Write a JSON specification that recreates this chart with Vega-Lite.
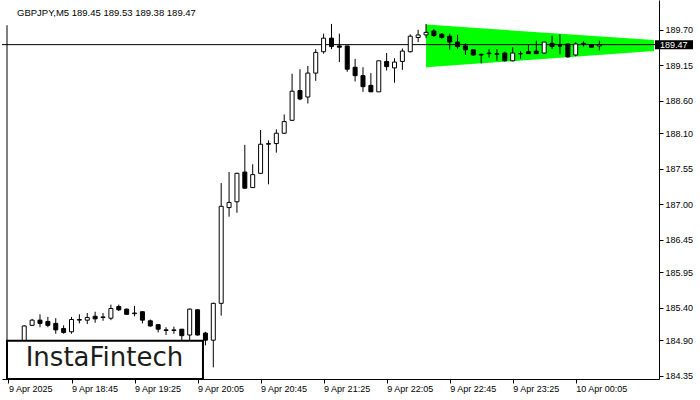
{
  "$schema": "https://vega.github.io/schema/vega-lite/v6.json",
  "width": 657,
  "height": 379,
  "autosize": {"type": "none"},
  "padding": {"left": 2, "top": 0, "right": 41, "bottom": 21},
  "background": "white",
  "title": {"text": "GBPJPY,M5  189.45 189.53 189.38 189.47", "anchor": "start", "frame": "group", "offset": -17, "dx": 15, "font": "Liberation Sans", "fontSize": 9.5, "fontWeight": "normal", "color": "black"},
  "config": {"view": {"stroke": null}, "axis": {"domainWidth": 1, "tickWidth": 1, "labelOverlap": false, "labelSeparation": 0}},
  "datasets": {
    "candles": [
      {"t": "2025-04-09T18:05:00", "open": 184.84, "high": 184.88, "low": 184.76, "close": 184.82},
      {"t": "2025-04-09T18:10:00", "open": 184.82, "high": 184.87, "low": 184.75, "close": 184.85},
      {"t": "2025-04-09T18:15:00", "open": 184.85, "high": 185.13, "low": 184.82, "close": 185.12},
      {"t": "2025-04-09T18:20:00", "open": 185.13, "high": 185.23, "low": 185.12, "close": 185.21},
      {"t": "2025-04-09T18:25:00", "open": 185.21, "high": 185.30, "low": 185.10, "close": 185.16},
      {"t": "2025-04-09T18:30:00", "open": 185.19, "high": 185.26, "low": 185.10, "close": 185.13},
      {"t": "2025-04-09T18:35:00", "open": 185.16, "high": 185.24, "low": 185.00, "close": 185.06},
      {"t": "2025-04-09T18:40:00", "open": 185.08, "high": 185.13, "low": 185.00, "close": 185.02},
      {"t": "2025-04-09T18:45:00", "open": 185.03, "high": 185.26, "low": 185.00, "close": 185.22},
      {"t": "2025-04-09T18:50:00", "open": 185.21, "high": 185.30, "low": 185.16, "close": 185.22},
      {"t": "2025-04-09T18:55:00", "open": 185.21, "high": 185.32, "low": 185.15, "close": 185.25},
      {"t": "2025-04-09T19:00:00", "open": 185.27, "high": 185.34, "low": 185.17, "close": 185.23},
      {"t": "2025-04-09T19:05:00", "open": 185.25, "high": 185.32, "low": 185.20, "close": 185.26},
      {"t": "2025-04-09T19:10:00", "open": 185.24, "high": 185.45, "low": 185.21, "close": 185.39},
      {"t": "2025-04-09T19:15:00", "open": 185.42, "high": 185.45, "low": 185.35, "close": 185.37},
      {"t": "2025-04-09T19:20:00", "open": 185.38, "high": 185.39, "low": 185.30, "close": 185.30},
      {"t": "2025-04-09T19:25:00", "open": 185.31, "high": 185.43, "low": 185.27, "close": 185.32},
      {"t": "2025-04-09T19:30:00", "open": 185.34, "high": 185.35, "low": 185.16, "close": 185.21},
      {"t": "2025-04-09T19:35:00", "open": 185.20, "high": 185.22, "low": 185.11, "close": 185.12},
      {"t": "2025-04-09T19:40:00", "open": 185.14, "high": 185.15, "low": 185.02, "close": 185.07},
      {"t": "2025-04-09T19:45:00", "open": 185.06, "high": 185.10, "low": 184.98, "close": 185.05},
      {"t": "2025-04-09T19:50:00", "open": 185.05, "high": 185.11, "low": 185.00, "close": 185.06},
      {"t": "2025-04-09T19:55:00", "open": 185.07, "high": 185.07, "low": 184.90, "close": 184.97},
      {"t": "2025-04-09T20:00:00", "open": 184.98, "high": 185.39, "low": 184.89, "close": 185.38},
      {"t": "2025-04-09T20:05:00", "open": 185.37, "high": 185.38, "low": 184.97, "close": 184.98},
      {"t": "2025-04-09T20:10:00", "open": 185.01, "high": 185.03, "low": 184.82, "close": 184.90},
      {"t": "2025-04-09T20:15:00", "open": 184.90, "high": 185.48, "low": 184.48, "close": 185.47},
      {"t": "2025-04-09T20:20:00", "open": 185.47, "high": 187.33, "low": 185.28, "close": 186.97},
      {"t": "2025-04-09T20:25:00", "open": 186.95, "high": 187.50, "low": 186.81, "close": 187.03},
      {"t": "2025-04-09T20:30:00", "open": 187.04, "high": 187.49, "low": 186.87, "close": 187.48},
      {"t": "2025-04-09T20:35:00", "open": 187.50, "high": 187.92, "low": 187.24, "close": 187.25},
      {"t": "2025-04-09T20:40:00", "open": 187.26, "high": 187.62, "low": 187.26, "close": 187.46},
      {"t": "2025-04-09T20:45:00", "open": 187.48, "high": 188.15, "low": 187.47, "close": 187.93},
      {"t": "2025-04-09T20:50:00", "open": 187.93, "high": 187.99, "low": 187.31, "close": 187.94},
      {"t": "2025-04-09T20:55:00", "open": 187.94, "high": 188.16, "low": 187.80, "close": 188.10},
      {"t": "2025-04-09T21:00:00", "open": 188.10, "high": 188.39, "low": 188.09, "close": 188.28},
      {"t": "2025-04-09T21:05:00", "open": 188.30, "high": 189.02, "low": 188.29, "close": 188.75},
      {"t": "2025-04-09T21:10:00", "open": 188.76, "high": 189.09, "low": 188.61, "close": 188.63},
      {"t": "2025-04-09T21:15:00", "open": 188.66, "high": 189.14, "low": 188.56, "close": 189.03},
      {"t": "2025-04-09T21:20:00", "open": 189.03, "high": 189.40, "low": 188.91, "close": 189.35},
      {"t": "2025-04-09T21:25:00", "open": 189.36, "high": 189.64, "low": 189.33, "close": 189.57},
      {"t": "2025-04-09T21:30:00", "open": 189.57, "high": 189.79, "low": 189.40, "close": 189.44},
      {"t": "2025-04-09T21:35:00", "open": 189.45, "high": 189.64, "low": 189.20, "close": 189.43},
      {"t": "2025-04-09T21:40:00", "open": 189.45, "high": 189.45, "low": 189.05, "close": 189.09},
      {"t": "2025-04-09T21:45:00", "open": 189.12, "high": 189.25, "low": 188.90, "close": 188.99},
      {"t": "2025-04-09T21:50:00", "open": 188.99, "high": 189.12, "low": 188.74, "close": 188.82},
      {"t": "2025-04-09T21:55:00", "open": 188.84, "high": 189.03, "low": 188.74, "close": 188.74},
      {"t": "2025-04-09T22:00:00", "open": 188.74, "high": 189.22, "low": 188.74, "close": 189.22},
      {"t": "2025-04-09T22:05:00", "open": 189.21, "high": 189.34, "low": 189.07, "close": 189.13},
      {"t": "2025-04-09T22:10:00", "open": 189.11, "high": 189.26, "low": 188.88, "close": 189.20},
      {"t": "2025-04-09T22:15:00", "open": 189.21, "high": 189.41, "low": 189.08, "close": 189.37},
      {"t": "2025-04-09T22:20:00", "open": 189.36, "high": 189.63, "low": 189.35, "close": 189.60},
      {"t": "2025-04-09T22:25:00", "open": 189.58, "high": 189.70, "low": 189.51, "close": 189.62},
      {"t": "2025-04-09T22:30:00", "open": 189.62, "high": 189.79, "low": 189.57, "close": 189.66},
      {"t": "2025-04-09T22:35:00", "open": 189.68, "high": 189.71, "low": 189.59, "close": 189.61},
      {"t": "2025-04-09T22:40:00", "open": 189.63, "high": 189.65, "low": 189.56, "close": 189.58},
      {"t": "2025-04-09T22:45:00", "open": 189.60, "high": 189.64, "low": 189.39, "close": 189.51},
      {"t": "2025-04-09T22:50:00", "open": 189.51, "high": 189.62, "low": 189.40, "close": 189.44},
      {"t": "2025-04-09T22:55:00", "open": 189.45, "high": 189.49, "low": 189.31, "close": 189.39},
      {"t": "2025-04-09T23:00:00", "open": 189.39, "high": 189.39, "low": 189.30, "close": 189.31},
      {"t": "2025-04-09T23:05:00", "open": 189.32, "high": 189.33, "low": 189.18, "close": 189.31},
      {"t": "2025-04-09T23:10:00", "open": 189.33, "high": 189.40, "low": 189.27, "close": 189.34},
      {"t": "2025-04-09T23:15:00", "open": 189.33, "high": 189.40, "low": 189.22, "close": 189.32},
      {"t": "2025-04-09T23:20:00", "open": 189.34, "high": 189.36, "low": 189.21, "close": 189.22},
      {"t": "2025-04-09T23:25:00", "open": 189.22, "high": 189.43, "low": 189.21, "close": 189.34},
      {"t": "2025-04-09T23:30:00", "open": 189.33, "high": 189.37, "low": 189.25, "close": 189.33},
      {"t": "2025-04-09T23:35:00", "open": 189.36, "high": 189.47, "low": 189.33, "close": 189.33},
      {"t": "2025-04-09T23:40:00", "open": 189.37, "high": 189.53, "low": 189.33, "close": 189.33},
      {"t": "2025-04-09T23:45:00", "open": 189.34, "high": 189.51, "low": 189.33, "close": 189.51},
      {"t": "2025-04-09T23:50:00", "open": 189.49, "high": 189.61, "low": 189.40, "close": 189.44},
      {"t": "2025-04-09T23:55:00", "open": 189.45, "high": 189.63, "low": 189.32, "close": 189.45},
      {"t": "2025-04-10T00:00:00", "open": 189.48, "high": 189.48, "low": 189.27, "close": 189.28},
      {"t": "2025-04-10T00:05:00", "open": 189.31, "high": 189.51, "low": 189.29, "close": 189.48},
      {"t": "2025-04-10T00:10:00", "open": 189.49, "high": 189.52, "low": 189.44, "close": 189.48},
      {"t": "2025-04-10T00:15:00", "open": 189.47, "high": 189.48, "low": 189.43, "close": 189.43},
      {"t": "2025-04-10T00:20:00", "open": 189.45, "high": 189.53, "low": 189.38, "close": 189.47}
    ],
    "pattern": [
      {"t": "2025-04-09T22:30:00", "top": 189.78, "bottom": 189.12},
      {"t": "2025-04-10T00:54:41", "top": 189.54, "bottom": 189.37}
    ],
    "last": [{"close": 189.47}],
    "logo": [{"text": "InstaFintech"}]
  },
  "layer": [
    {
      "data": {"name": "pattern"},
      "mark": {"type": "area", "color": "#00ff00", "opacity": 1, "clip": true},
      "encoding": {
        "x": {
          "field": "t", "type": "temporal",
          "scale": {"domain": [
            {"year": 2025, "month": 4, "date": 9, "hours": 18, "minutes": 4, "seconds": 3, "milliseconds": 750},
            {"year": 2025, "month": 4, "date": 10, "hours": 0, "minutes": 54, "seconds": 41, "milliseconds": 250}
          ]},
          "axis": {
            "title": null, "grid": false, "tickCount": 30,
            "values": [
              {"year": 2025, "month": 4, "date": 9, "hours": 18, "minutes": 5},
              {"year": 2025, "month": 4, "date": 9, "hours": 18, "minutes": 45},
              {"year": 2025, "month": 4, "date": 9, "hours": 19, "minutes": 25},
              {"year": 2025, "month": 4, "date": 9, "hours": 20, "minutes": 5},
              {"year": 2025, "month": 4, "date": 9, "hours": 20, "minutes": 45},
              {"year": 2025, "month": 4, "date": 9, "hours": 21, "minutes": 25},
              {"year": 2025, "month": 4, "date": 9, "hours": 22, "minutes": 5},
              {"year": 2025, "month": 4, "date": 9, "hours": 22, "minutes": 45},
              {"year": 2025, "month": 4, "date": 9, "hours": 23, "minutes": 25},
              {"year": 2025, "month": 4, "date": 10, "hours": 0, "minutes": 5}
            ],
            "labelExpr": "timeFormat(datum.value, '%H:%M') == '18:05' ? '9 Apr 2025' : timeFormat(datum.value, '%-d %b %H:%M')",
            "domainColor": "black", "tickColor": "black", "tickSize": 4,
            "labelFont": "Liberation Sans", "labelFontSize": 9, "labelColor": "black",
            "labelAlign": "left", "labelPadding": 1, "labelFlush": false, "labelOverlap": false, "labelBound": false
          }
        },
        "y": {
          "field": "top", "type": "quantitative",
          "scale": {"domain": [184.30, 190.16], "zero": false, "nice": false},
          "axis": {
            "title": null, "grid": false, "orient": "right", "tickCount": 30,
            "values": [184.35, 184.9, 185.4, 185.95, 186.45, 187.0, 187.55, 188.1, 188.6, 189.15, 189.7],
            "format": ".2f",
            "domainColor": "black", "tickColor": "black", "tickSize": 4,
            "labelFont": "Liberation Sans", "labelFontSize": 9, "labelColor": "black",
            "labelPadding": 2, "labelFlush": false, "labelOverlap": false
          }
        },
        "y2": {"field": "bottom"}
      }
    },
    {
      "data": {"name": "last"},
      "mark": {"type": "rule", "color": "black", "strokeWidth": 1},
      "encoding": {
        "y": {"field": "close", "type": "quantitative", "title": null}
      }
    },
    {
      "data": {"name": "candles"},
      "mark": {"type": "rule", "color": "black", "strokeWidth": 1},
      "encoding": {
        "x": {"field": "t", "type": "temporal", "title": null},
        "y": {"field": "low", "type": "quantitative", "title": null},
        "y2": {"field": "high"}
      }
    },
    {
      "data": {"name": "candles"},
      "mark": {"type": "bar", "size": 4, "stroke": "black", "strokeWidth": 1},
      "encoding": {
        "x": {"field": "t", "type": "temporal", "title": null},
        "y": {"field": "open", "type": "quantitative", "title": null},
        "y2": {"field": "close"},
        "fill": {"condition": {"test": "datum.close >= datum.open", "value": "white"}, "value": "black"}
      }
    },
    {
      "data": {"name": "logo"},
      "mark": {"type": "rect", "fill": "white", "stroke": "black", "strokeWidth": 2},
      "encoding": {
        "x": {"datum": {"year": 2025, "month": 4, "date": 9, "hours": 18, "minutes": 4, "seconds": 3, "milliseconds": 750}, "type": "temporal", "title": null},
        "x2": {"datum": {"year": 2025, "month": 4, "date": 9, "hours": 20, "minutes": 8, "seconds": 26}},
        "y": {"datum": 184.30, "type": "quantitative", "title": null},
        "y2": {"datum": 184.89}
      }
    },
    {
      "data": {"name": "logo"},
      "mark": {"type": "text", "font": "DejaVu Sans", "fontSize": 26, "color": "#1c1c1c", "align": "center", "baseline": "middle"},
      "encoding": {
        "x": {"datum": {"year": 2025, "month": 4, "date": 9, "hours": 19, "minutes": 5, "seconds": 56}, "type": "temporal", "title": null},
        "y": {"datum": 184.63, "type": "quantitative", "title": null},
        "text": {"field": "text"}
      }
    },
    {
      "data": {"name": "logo"},
      "mark": {"type": "rule", "color": "black", "strokeWidth": 1},
      "encoding": {
        "x": {"datum": {"year": 2025, "month": 4, "date": 9, "hours": 18, "minutes": 4, "seconds": 3, "milliseconds": 750}, "type": "temporal", "title": null},
        "y": {"datum": 184.89, "type": "quantitative", "title": null},
        "y2": {"datum": 189.77}
      }
    },
    {
      "data": {"name": "last"},
      "mark": {"type": "rect", "color": "black", "clip": false, "xOffset": 1, "x2Offset": 39, "yOffset": -4.5, "y2Offset": 4.5},
      "encoding": {
        "x": {"datum": {"year": 2025, "month": 4, "date": 10, "hours": 0, "minutes": 54, "seconds": 41, "milliseconds": 250}, "type": "temporal", "title": null},
        "x2": {"datum": {"year": 2025, "month": 4, "date": 10, "hours": 0, "minutes": 54, "seconds": 41, "milliseconds": 250}},
        "y": {"field": "close", "type": "quantitative", "title": null},
        "y2": {"field": "close"}
      }
    },
    {
      "data": {"name": "last"},
      "mark": {"type": "text", "color": "white", "clip": false, "align": "left", "baseline": "middle", "dx": 6, "font": "Liberation Sans", "fontSize": 9},
      "encoding": {
        "x": {"datum": {"year": 2025, "month": 4, "date": 10, "hours": 0, "minutes": 54, "seconds": 41, "milliseconds": 250}, "type": "temporal", "title": null},
        "y": {"field": "close", "type": "quantitative", "title": null},
        "text": {"field": "close", "format": ".2f"}
      }
    }
  ]
}
